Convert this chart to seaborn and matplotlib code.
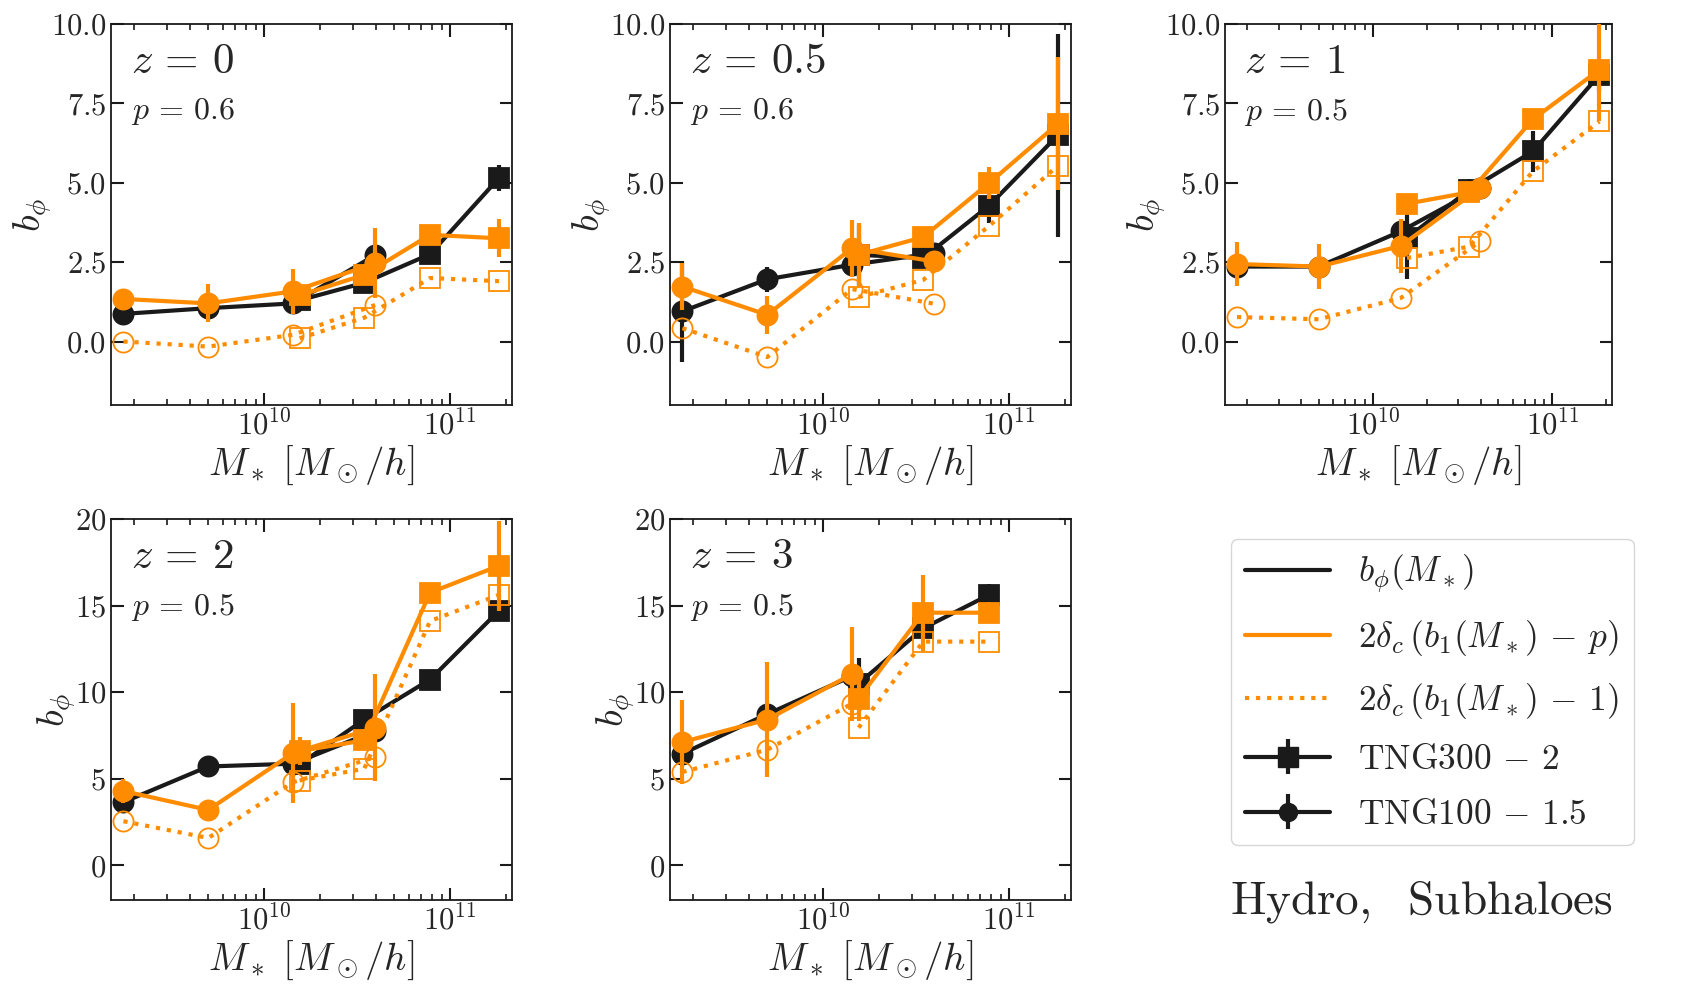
import numpy as np
import pandas as pd
import matplotlib
matplotlib.use('Agg')
import matplotlib.pyplot as plt
import seaborn as sns
from matplotlib.lines import Line2D

# redshift panels and the p value quoted in each
redshifts = ['0', '0.5', '1', '2', '3']
p_values = ['0.6', '0.6', '0.5', '0.5', '0.5']

# stellar mass bins [M_sun/h]
mass_100 = [1.75e9, 5.0e9, 1.43e10, 3.95e10]     # TNG100-1.5 (circles)
mass_300 = [1.55e10, 3.45e10, 7.8e10, 1.83e11]   # TNG300-2 (squares)

# b_phi measured, one list per redshift
bphi_100 = [[0.87, 1.05, 1.2, 2.72], [0.95, 1.96, 2.42, 2.78], [2.36, 2.36, 3.47, 4.83],
            [3.65, 5.71, 5.87, 7.76], [6.45, 8.73, 10.93]]
bphi_100_err = [[0.35, 0.2, 0.2, 0.3], [1.6, 0.4, 0.3, 0.3], [0.2, 0.2, 0.3, 0.2],
                [0.4, 0.3, 0.5, 0.4], [0.5, 0.4, 0.5]]
bphi_300 = [[1.3, 1.85, 2.75, 5.15], [2.73, 2.63, 4.28, 6.5], [3.26, 4.78, 5.99, 8.4],
            [5.83, 8.42, 10.73, 14.71], [10.5, 13.69, 15.62]]
bphi_300_err = [[0.2, 0.2, 0.2, 0.4], [0.95, 0.3, 0.55, 3.2], [1.3, 0.35, 0.65, 0.5],
                [0.5, 0.4, 0.3, 0.6], [1.5, 0.6, 0.6]]

# 2 delta_c (b1 - p)
bp_100 = [[1.34, 1.2, 1.58, 2.47], [1.73, 0.84, 2.94, 2.52], [2.44, 2.36, 3.01, 4.83],
          [4.29, 3.2, 6.49, 7.95], [7.12, 8.42, 11.04]]
bp_100_err = [[0.15, 0.6, 0.7, 1.1], [0.75, 0.6, 0.9, 0.3], [0.7, 0.7, 0.85, 0.2],
              [0.7, 0.6, 2.9, 3.1], [2.4, 3.3, 2.7]]
bp_300 = [[1.45, 2.1, 3.36, 3.25], [2.73, 3.29, 4.99, 6.86], [4.34, 4.7, 7.0, 8.56],
          [6.6, 7.22, 15.75, 17.3], [9.63, 14.59, 14.59]]
bp_300_err = [[0.2, 0.2, 0.2, 0.6], [1.0, 0.25, 0.5, 2.1], [0.3, 0.2, 0.3, 1.6],
              [0.8, 0.4, 0.4, 2.6], [1.3, 2.2, 0.6]]

# 2 delta_c (b1 - 1)
b1_100 = [[0.0, -0.16, 0.21, 1.15], [0.42, -0.49, 1.65, 1.19], [0.77, 0.7, 1.37, 3.15],
          [2.55, 1.58, 4.8, 6.25], [5.39, 6.68, 9.34]]
b1_300 = [[0.1, 0.75, 2.0, 1.9], [1.4, 1.94, 3.64, 5.54], [2.63, 2.99, 5.36, 6.93],
          [4.9, 5.58, 14.11, 15.62], [7.95, 12.92, 12.92]]

orange = '#FF8C00'

sns.set_theme(style='ticks')
plt.rcParams['font.family'] = 'serif'
plt.rcParams['font.serif'] = ['cmr10', 'DejaVu Serif']
plt.rcParams['mathtext.fontset'] = 'cm'
plt.rcParams['axes.formatter.use_mathtext'] = True
plt.rcParams['axes.unicode_minus'] = False


def draw(ax, x, y, err, color, marker, ls, filled, ms, z):
    df = pd.DataFrame({'m': x, 'b': y})
    sns.lineplot(data=df, x='m', y='b', ax=ax, color=color, lw=3, linestyle=ls,
                 marker=marker, ms=ms, mfc=color if filled else 'none',
                 mec=color, mew=1.3, zorder=z)
    if err is not None:
        ax.errorbar(x, y, yerr=err, fmt='none', ecolor=color, elinewidth=3,
                    capsize=0, zorder=z)


fig = plt.figure(figsize=(17, 10), dpi=100)
lefts = [111, 670, 1225]
widths = [401, 401, 387]
tops = [24, 519]
H = 381

for i, z in enumerate(redshifts):
    r, c = divmod(i, 3)
    ax = fig.add_axes([lefts[c] / 1700, 1 - (tops[r] + H) / 1000, widths[c] / 1700, H / 1000])
    ax.set_xscale('log')
    n = len(bphi_100[i])
    m100 = mass_100[:n]
    m300 = mass_300[:n]

    draw(ax, m100, bphi_100[i], bphi_100_err[i], 'k', 'o', '-', True, 14.5, 2)
    draw(ax, m300, bphi_300[i], bphi_300_err[i], 'k', 's', '-', True, 15, 2)
    draw(ax, m100, b1_100[i], None, orange, 'o', ':', False, 14.5, 3)
    draw(ax, m300, b1_300[i], None, orange, 's', ':', False, 15, 3)
    draw(ax, m100, bp_100[i], bp_100_err[i], orange, 'o', '-', True, 14.5, 4)
    draw(ax, m300, bp_300[i], bp_300_err[i], orange, 's', '-', True, 15, 4)

    ax.set_xlim(1.5e9, 2.15e11)
    if r == 0:
        ax.set_ylim(-2, 10)
        ax.set_yticks([0, 2.5, 5, 7.5, 10])
    else:
        ax.set_ylim(-2, 20)
        ax.set_yticks([0, 5, 10, 15, 20])

    ax.set_xlabel(r'$M_*\ [M_\odot/h]$', fontsize=28, labelpad=2)
    ax.set_ylabel(r'$b_\phi$', fontsize=28, labelpad=-2)
    ax.tick_params(which='both', direction='in', top=True, right=True, labelsize=22,
                   color='k')
    ax.tick_params(which='major', length=9, width=1.5)
    ax.tick_params(which='minor', length=4.5, width=1.2)
    for s in ax.spines.values():
        s.set_linewidth(1.3)
        s.set_color('k')

    ax.text(0.05, 0.95, r'$z\,=\,%s$' % z, transform=ax.transAxes, fontsize=31, va='top', ha='left')
    ax.text(0.05, 0.81, r'$p\,=\,%s$' % p_values[i], transform=ax.transAxes, fontsize=23,
            va='top', ha='left')

# legend panel
ax6 = fig.add_axes([lefts[2] / 1700, 1 - (tops[1] + H) / 1000, widths[2] / 1700, H / 1000])
ax6.set_xlim(0, 1)
ax6.set_ylim(0, 1)
h_sq = ax6.errorbar([5], [5], yerr=[1], fmt='s-', color='k', ms=14, lw=3, elinewidth=3, capsize=0)
h_ci = ax6.errorbar([5], [5], yerr=[1], fmt='o-', color='k', ms=13, lw=3, elinewidth=3, capsize=0)
ax6.axis('off')

handles = [Line2D([], [], color='k', lw=3),
           Line2D([], [], color=orange, lw=3),
           Line2D([], [], color=orange, lw=3, ls=':'),
           h_sq, h_ci]
labels = [r'$b_\phi(M_*)$', r'$2\delta_c\,(b_1(M_*)\,-\,p)$', r'$2\delta_c\,(b_1(M_*)\,-\,1)$',
          r'$\mathrm{TNG300\,-\,2}$', r'$\mathrm{TNG100\,-\,1.5}$']
fig.legend(handles, labels, loc='upper left', bbox_to_anchor=(1231 / 1700, 1 - 539 / 1000),
           fontsize=25.5, frameon=True, fancybox=True, borderaxespad=0, handlelength=2.4,
           labelspacing=0.65, edgecolor='#cccccc')
fig.text(1421 / 1700, 1 - 902 / 1000, r'$\mathrm{Hydro,\ \ Subhaloes}$', fontsize=34,
         ha='center', va='center')

fig.savefig('out.png', dpi=100)
